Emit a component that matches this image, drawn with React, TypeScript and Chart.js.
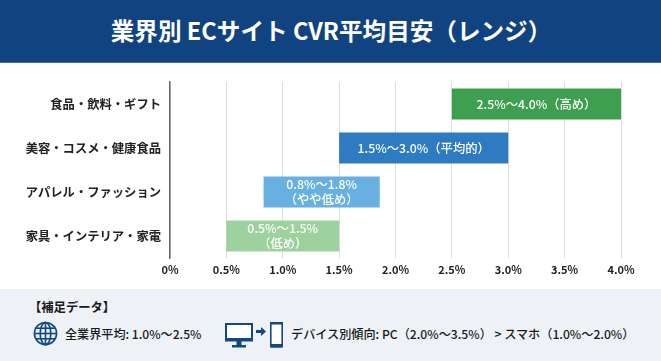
import React, { useEffect, useRef } from "react";
import { Chart, registerables } from "chart.js";

Chart.register(...registerables);

const FONT = '"Noto Sans CJK JP", "Noto Sans", sans-serif';
const titleText = "業界別 ECサイト CVR平均目安（レンジ）";
const categories = ["食品・飲料・ギフト", "美容・コスメ・健康食品", "アパレル・ファッション", "家具・インテリア・家電"];
const rangeStart = [2.5, 1.5, 0.83, 0.5];
const rangeEnd = [4.0, 3.0, 1.86, 1.5];
const barColors = ["#3e9f4e", "#2f7bc1", "#68b0e2", "#9dd19f"];
const barLabels = [["2.5%〜4.0%（高め）"], ["1.5%〜3.0%（平均的）"], ["0.8%〜1.8%", "（やや低め）"], ["0.5%〜1.5%", "（低め）"]];
const noteHeading = "【補足データ】";
const noteAverage = "全業界平均: 1.0%〜2.5%";
const noteDevice = "デバイス別傾向: PC（2.0%〜3.5%）  > スマホ（1.0%〜2.0%）";

const barLabelPlugin = {
  id: "barLabelPlugin",
  afterDatasetsDraw(chart: any) {
    const { ctx } = chart;
    const meta = chart.getDatasetMeta(0);
    ctx.save();
    ctx.fillStyle = "#ffffff";
    ctx.textAlign = "center";
    ctx.textBaseline = "middle";
    ctx.font = `500 12.3px ${FONT}`;
    meta.data.forEach((bar: any, i: number) => {
      const lines = barLabels[i];
      const cx = (bar.x + bar.base) / 2;
      const lh = 15;
      lines.forEach((line, j) => {
        ctx.fillText(line, cx, bar.y + (j - (lines.length - 1) / 2) * lh);
      });
    });
    ctx.restore();
  },
};

export default function App() {
  const ref = useRef<HTMLCanvasElement>(null);
  useEffect(() => {
    const chart = new Chart(ref.current!, {
      type: "bar",
      data: {
        labels: categories,
        datasets: [
          {
            data: rangeStart.map((s, i) => [s, rangeEnd[i]]),
            backgroundColor: barColors,
            categoryPercentage: 1,
            barPercentage: 0.7,
          },
        ],
      } as any,
      plugins: [barLabelPlugin],
      options: {
        indexAxis: "y",
        responsive: false,
        animation: false,
        layout: { padding: { top: 82, right: 40, bottom: 361 - 280, left: 0 } },
        plugins: { legend: { display: false }, title: { display: false }, tooltip: { enabled: false } },
        scales: {
          x: {
            min: 0,
            max: 4,
            afterFit: (s: any) => { s.height = 22; },
            grid: { color: "#dddddd", lineWidth: 1, drawTicks: false },
            border: { display: false },
            ticks: {
              stepSize: 0.5,
              padding: 5,
              color: "#222222",
              maxRotation: 0,
              font: { family: FONT, size: 11, weight: "bold" },
              callback: (v: any) => (v === 0 ? "0%" : `${Number(v).toFixed(1)}%`),
            },
          },
          y: {
            afterFit: (s: any) => { s.width = 170; },
            grid: { display: false, drawTicks: false },
            border: { display: true, color: "#666666", width: 1.5 },
            ticks: {
              padding: 9,
              color: "#222222",
              font: { family: FONT, size: 12.3, weight: "bold" },
            },
          },
        },
      },
    } as any);
    return () => chart.destroy();
  }, []);

  const textBase: React.CSSProperties = { position: "absolute", whiteSpace: "nowrap", fontFamily: FONT, color: "#1a1a1a" };
  return (
    <div style={{ position: "relative", width: 661, height: 361, overflow: "hidden", background: "#fff", fontFamily: FONT }}>
      <style>{`html,body{margin:0;padding:0;background:#fff}`}</style>
      <div style={{ position: "absolute", left: 0, top: 0, width: 661, height: 63, background: "#10437f", borderBottom: "1px solid #3c6ea5", boxSizing: "border-box" }} />
      <div style={{ ...textBase, left: 0, width: 662, top: 14, textAlign: "center", color: "#fff", fontSize: 23.6, lineHeight: "32px", fontWeight: 700 }}>{titleText}</div>
      <canvas ref={ref} width={661} height={361} style={{ position: "absolute", left: 0, top: 0, display: "block" }} />
      <div style={{ position: "absolute", left: 0, top: 289, width: 661, height: 72, background: "#eef2f6" }} />
      <div style={{ ...textBase, left: 29, top: 298, fontSize: 12.3, lineHeight: "18px", fontWeight: 700 }}>{noteHeading}</div>
      <svg style={{ position: "absolute", left: 33, top: 321 }} width={25} height={25} viewBox="0 0 26 26" fill="none" stroke="#13497f" strokeWidth={1.7}>
        <circle cx={13} cy={13} r={11.5} />
        <ellipse cx={13} cy={13} rx={5.5} ry={11.5} />
        <line x1={13} y1={1.5} x2={13} y2={24.5} />
        <line x1={1.5} y1={13} x2={24.5} y2={13} />
        <line x1={3.2} y1={7.5} x2={22.8} y2={7.5} />
        <line x1={3.2} y1={18.5} x2={22.8} y2={18.5} />
      </svg>
      <div style={{ ...textBase, left: 65, top: 325, fontSize: 12.1, lineHeight: "18px", fontWeight: 500 }}>{noteAverage}</div>
      <svg style={{ position: "absolute", left: 224, top: 320 }} width={64} height={30} viewBox="0 0 64 30">
        <rect x={2} y={4} width={26} height={16} fill="#fff" stroke="#13497f" strokeWidth={2} />
        <rect x={1} y={18} width={28} height={3.5} fill="#13497f" />
        <rect x={12.5} y={21} width={5} height={4} fill="#13497f" />
        <rect x={8} y={25} width={14} height={2.5} fill="#13497f" />
        <polygon points="32,10 37,10 37,7 42,11.5 37,16 37,13 32,13" fill="#13497f" />
        <rect x={46.8} y={2.8} width={11.4} height={24} rx={2} fill="#fff" stroke="#13497f" strokeWidth={1.6} />
        <rect x={46} y={2} width={13} height={2.5} fill="#13497f" />
        <rect x={46} y={24} width={13} height={3.5} fill="#13497f" />
      </svg>
      <div style={{ ...textBase, left: 291, top: 325, fontSize: 12.15, lineHeight: "18px", fontWeight: 500 }}>{noteDevice}</div>
    </div>
  );
}
